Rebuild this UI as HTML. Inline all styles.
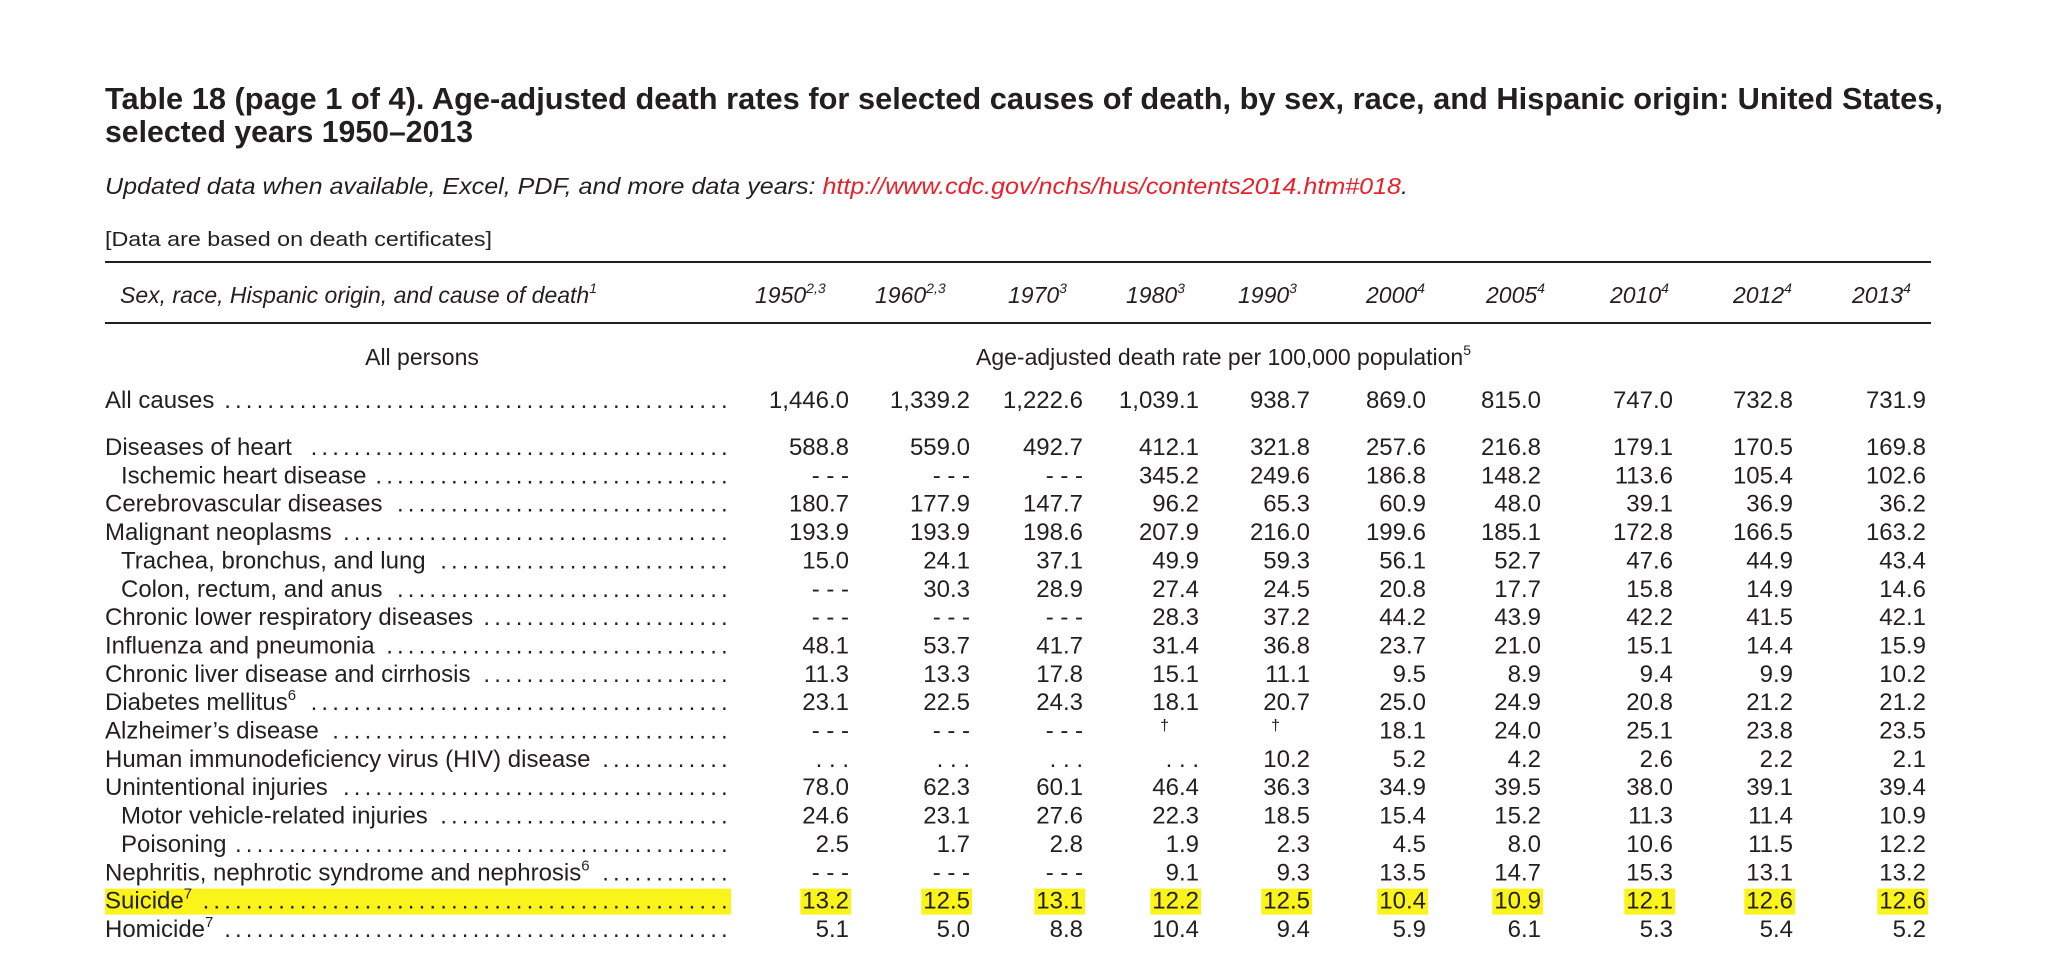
<!DOCTYPE html>
<html><head><meta charset="utf-8"><style>
html,body{margin:0;padding:0;background:#fff;}
svg{display:block;}
text{font-family:"Liberation Sans",Arial,sans-serif;fill:#231f20;}
</style></head><body>
<svg id="t" width="2048" height="975" viewBox="0 0 2048 975" xmlns="http://www.w3.org/2000/svg">
<text x="105" y="109" font-size="31" font-weight="bold" textLength="1838" lengthAdjust="spacingAndGlyphs">Table 18 (page 1 of 4). Age-adjusted death rates for selected causes of death, by sex, race, and Hispanic origin: United States,</text>
<text x="105" y="142" font-size="31" font-weight="bold" textLength="368" lengthAdjust="spacingAndGlyphs">selected years 1950–2013</text>
<text x="105" y="194" font-size="23" font-style="italic" textLength="1303" lengthAdjust="spacingAndGlyphs">Updated data when available, Excel, PDF, and more data years: <tspan fill="#e8202a" style="fill:#e8202a">http://www.cdc.gov/nchs/hus/contents2014.htm#018</tspan>.</text>
<text x="105" y="246" font-size="20.5" textLength="387" lengthAdjust="spacingAndGlyphs">[Data are based on death certificates]</text>
<rect x="105" y="261" width="1826" height="2" fill="#231f20"/>
<rect x="105" y="322" width="1826" height="2" fill="#231f20"/>
<text x="120" y="303" font-size="23" font-style="italic">Sex, race, Hispanic origin, and cause of death<tspan font-size="14" dy="-10">1</tspan></text>
<text x="422" y="365" font-size="23" text-anchor="middle">All persons</text>
<text x="976" y="365" font-size="23">Age-adjusted death rate per 100,000 population<tspan font-size="14" dy="-10">5</tspan></text>
<g id="hl"></g>
<g id="body"></g>
</svg>
<script>
const years = ['1950','1960','1970','1980','1990','2000','2005','2010','2012','2013'];
const yearNotes = ['2,3','2,3','3','3','3','4','4','4','4','4'];
const allCauses = ['1,446.0','1,339.2','1,222.6','1,039.1','938.7','869.0','815.0','747.0','732.8','731.9'];
const causes = ['Diseases of heart','Ischemic heart disease','Cerebrovascular diseases','Malignant neoplasms','Trachea, bronchus, and lung','Colon, rectum, and anus','Chronic lower respiratory diseases','Influenza and pneumonia','Chronic liver disease and cirrhosis','Diabetes mellitus','Alzheimer\u2019s disease','Human immunodeficiency virus (HIV) disease','Unintentional injuries','Motor vehicle-related injuries','Poisoning','Nephritis, nephrotic syndrome and nephrosis','Suicide','Homicide'];
const causeNotes = ['','','','','','','','','','6','','','','','','6','7','7'];
const indented = [0,1,0,0,1,1,0,0,0,0,0,0,0,1,1,0,0,0];
const values = [
['588.8','559.0','492.7','412.1','321.8','257.6','216.8','179.1','170.5','169.8'],
['- - -','- - -','- - -','345.2','249.6','186.8','148.2','113.6','105.4','102.6'],
['180.7','177.9','147.7','96.2','65.3','60.9','48.0','39.1','36.9','36.2'],
['193.9','193.9','198.6','207.9','216.0','199.6','185.1','172.8','166.5','163.2'],
['15.0','24.1','37.1','49.9','59.3','56.1','52.7','47.6','44.9','43.4'],
['- - -','30.3','28.9','27.4','24.5','20.8','17.7','15.8','14.9','14.6'],
['- - -','- - -','- - -','28.3','37.2','44.2','43.9','42.2','41.5','42.1'],
['48.1','53.7','41.7','31.4','36.8','23.7','21.0','15.1','14.4','15.9'],
['11.3','13.3','17.8','15.1','11.1','9.5','8.9','9.4','9.9','10.2'],
['23.1','22.5','24.3','18.1','20.7','25.0','24.9','20.8','21.2','21.2'],
['- - -','- - -','- - -','\u2020','\u2020','18.1','24.0','25.1','23.8','23.5'],
['. . .','. . .','. . .','. . .','10.2','5.2','4.2','2.6','2.2','2.1'],
['78.0','62.3','60.1','46.4','36.3','34.9','39.5','38.0','39.1','39.4'],
['24.6','23.1','27.6','22.3','18.5','15.4','15.2','11.3','11.4','10.9'],
['2.5','1.7','2.8','1.9','2.3','4.5','8.0','10.6','11.5','12.2'],
['- - -','- - -','- - -','9.1','9.3','13.5','14.7','15.3','13.1','13.2'],
['13.2','12.5','13.1','12.2','12.5','10.4','10.9','12.1','12.6','12.6'],
['5.1','5.0','8.8','10.4','9.4','5.9','6.1','5.3','5.4','5.2']
];
const highlightRow = 'Suicide';

const NS = 'http://www.w3.org/2000/svg';
const svg = document.getElementById('t');
const body = document.getElementById('body');
const hl = document.getElementById('hl');
const colRight = [849,970,1083,1199,1310,1426,1541,1673,1793,1926];
const headStart = [755,875,1008,1126,1238,1366,1486,1610,1733,1852];
const FS = 24;
function colX(i){ return colRight[i]; }
function rowY(r){ return 455 + r*28.35; }

function mk(tag, attrs, parent){
  const e = document.createElementNS(NS, tag);
  for (const k in attrs) e.setAttribute(k, attrs[k]);
  parent.appendChild(e);
  return e;
}

years.forEach((y,i)=>{
  const t = mk('text',{x:headStart[i], y:303, 'font-size':23, 'font-style':'italic'}, svg);
  
  
  t.textContent = y;
  const s = mk('tspan',{'font-size':14, dy:-10}, t);
  s.textContent = yearNotes[i];
});

function addLeaders(labelEl, y, name){
  const bb = labelEl.getBBox();
  const start = bb.x + bb.width + 8;
  const end = 725;
  const step = 10.8;
  const xs = [];
  for (let x = end - 4; x >= start; x -= step) xs.unshift(x.toFixed(1));
  if (!xs.length) return;
  const d = mk('text',{x:xs.join(' '), y:y, 'font-size':FS}, body);
  
  
  d.textContent = Array(xs.length+1).join('.');
}

function addValues(arr, y, rowName, highlight){
  arr.forEach((v,i)=>{
    const isDagger = v === '\u2020';
    const t = mk('text',{x: isDagger ? colX(i)-30 : colX(i), y: isDagger ? y-8 : y, 'font-size': isDagger ? 16 : FS, 'text-anchor':'end'}, body);
    
    
    t.textContent = v;
    if (highlight){
      const bb = t.getBBox();
      const r = mk('rect',{x:bb.x-2, y:bb.y+1, width:bb.width+4, height:bb.height-1, fill:'#fbf41a'}, hl);
      
      
    }
  });
}

(function(){
  const y = 408;
  const l = mk('text',{x:105, y:y, 'font-size':FS}, body);
  
  
  l.textContent = 'All causes';
  addLeaders(l, y, 'all-causes');
  addValues(allCauses, y, 'all-causes', false);
})();

causes.forEach((c,r)=>{
  const y = rowY(r);
  const slug = c.toLowerCase().replace(/[^a-z0-9]+/g,'-').replace(/^-|-$/g,'');
  const isHL = c === highlightRow;
  const l = mk('text',{x:105 + (indented[r]?16:0), y:y, 'font-size':FS}, body);
  
  
  l.textContent = c;
  if (causeNotes[r]){
    const s = mk('tspan',{'font-size':15, dy:-10}, l);
    s.textContent = causeNotes[r];
  }
  addLeaders(l, y, slug);
  if (isHL){
    const r2 = mk('rect',{x:105, y:y-20, width:626, height:26, fill:'#fbf41a'}, hl);
    
    
  }
  addValues(values[r], y, slug, isHL);
});
</script>
</body></html>
